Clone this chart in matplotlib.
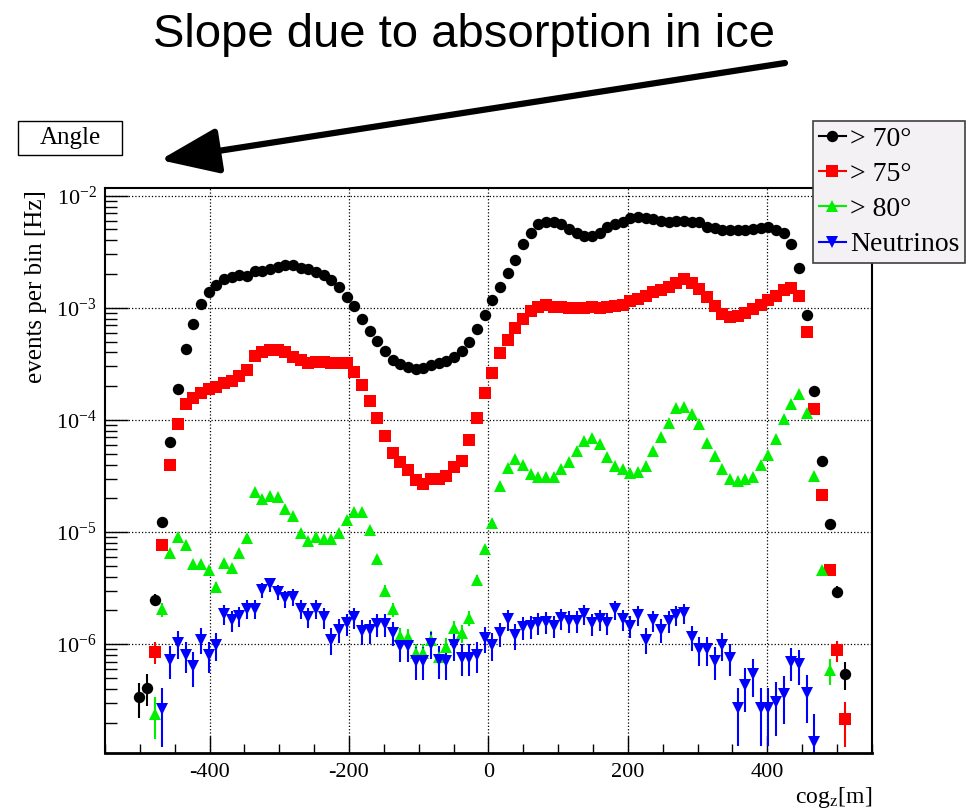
# plot.py - event rate per cog_z bin for several zenith cuts


import numpy as np
import matplotlib.pyplot as plt
from matplotlib.lines import Line2D
from matplotlib.patches import Rectangle
from matplotlib.ticker import MultipleLocator, LogLocator

# histogram binning: 100 bins of 11 m from -550 to 550
bin_edges = np.linspace(-550, 550, 101)
bin_centres = 0.5 * (bin_edges[:-1] + bin_edges[1:])

# > 70 deg, bins 4..96
gt70 = [3.35e-7, 4.1e-7, 2.5e-6, 1.24e-5, 6.35e-5, 1.89e-4, 4.3e-4, 7.1e-4,
        1.08e-3, 1.38e-3, 1.6e-3, 1.8e-3, 1.87e-3, 1.95e-3, 1.92e-3, 2.14e-3,
        2.13e-3, 2.2e-3, 2.33e-3, 2.39e-3, 2.39e-3, 2.28e-3, 2.23e-3, 2.10e-3,
        1.94e-3, 1.77e-3, 1.54e-3, 1.26e-3, 1.04e-3, 7.9e-4, 6.2e-4, 5.06e-4,
        4.09e-4, 3.42e-4, 3.15e-4, 2.94e-4, 2.86e-4, 2.9e-4, 3.07e-4, 3.2e-4,
        3.38e-4, 3.66e-4, 4.12e-4, 4.99e-4, 6.43e-4, 8.6e-4, 1.17e-3, 1.54e-3,
        2.03e-3, 2.67e-3, 3.68e-3, 4.62e-3, 5.56e-3, 5.87e-3, 5.87e-3, 5.56e-3,
        5.05e-3, 4.68e-3, 4.40e-3, 4.38e-3, 4.68e-3, 5.22e-3, 5.56e-3, 5.87e-3,
        6.29e-3, 6.42e-3, 6.29e-3, 6.16e-3, 5.99e-3, 5.87e-3, 5.99e-3, 5.99e-3,
        5.87e-3, 5.79e-3, 5.29e-3, 5.12e-3, 4.94e-3, 4.94e-3, 4.94e-3, 4.94e-3,
        4.99e-3, 5.12e-3, 5.22e-3, 4.94e-3, 4.68e-3, 3.71e-3, 2.28e-3, 8.57e-4,
        1.80e-4, 4.33e-5, 1.17e-5, 2.93e-6, 5.4e-7]
first70 = 4

# > 75 deg, bins 6..96
gt75 = [8.55e-7, 7.66e-6, 3.96e-5, 9.2e-5, 1.38e-4, 1.58e-4, 1.75e-4, 1.89e-4,
        1.98e-4, 2.15e-4, 2.22e-4, 2.48e-4, 2.77e-4, 3.74e-4, 4.0e-4, 4.2e-4,
        4.2e-4, 4.06e-4, 3.61e-4, 3.42e-4, 3.2e-4, 3.3e-4, 3.3e-4, 3.24e-4,
        3.24e-4, 3.24e-4, 2.66e-4, 2.05e-4, 1.48e-4, 1.03e-4, 7.2e-5, 5.1e-5,
        4.23e-5, 3.57e-5, 2.91e-5, 2.68e-5, 2.95e-5, 3.0e-5, 3.16e-5, 3.83e-5,
        4.33e-5, 6.6e-5, 1.03e-4, 1.75e-4, 2.6e-4, 3.93e-4, 5.16e-4, 6.56e-4,
        7.89e-4, 9.42e-4, 1.01e-3, 1.06e-3, 1.02e-3, 1.02e-3, 9.9e-4, 9.9e-4,
        9.9e-4, 1.02e-3, 9.9e-4, 1.02e-3, 1.04e-3, 1.06e-3, 1.16e-3, 1.19e-3,
        1.27e-3, 1.39e-3, 1.44e-3, 1.54e-3, 1.67e-3, 1.79e-3, 1.67e-3, 1.46e-3,
        1.24e-3, 1.04e-3, 8.8e-4, 8.3e-4, 8.4e-4, 8.9e-4, 9.7e-4, 1.06e-3,
        1.17e-3, 1.27e-3, 1.44e-3, 1.49e-3, 1.27e-3, 6.12e-4, 1.24e-4, 2.14e-5,
        4.58e-6, 8.86e-7, 2.13e-7]
first75 = 6

# > 80 deg, bins 6..94
gt80 = [2.4e-7, 2.04e-6, 6.45e-6, 9.08e-6, 7.66e-6, 5.19e-6, 5.19e-6, 4.58e-6,
        3.21e-6, 5.26e-6, 4.74e-6, 6.45e-6, 8.9e-6, 2.29e-5, 1.96e-5, 2.1e-5,
        2.04e-5, 1.59e-5, 1.39e-5, 9.87e-6, 8.38e-6, 9.08e-6, 8.6e-6, 8.6e-6,
        9.87e-6, 1.28e-5, 1.52e-5, 1.52e-5, 1.04e-5, 5.8e-6, 3.0e-6, 2.05e-6,
        1.18e-6, 1.15e-6, 8.3e-7, 8.3e-7, 1.09e-6, 7.7e-7, 9.5e-7, 1.38e-6,
        1.25e-6, 1.7e-6, 3.73e-6, 7.0e-6, 1.2e-5, 2.57e-5, 3.7e-5, 4.45e-5,
        3.96e-5, 3.27e-5, 3.08e-5, 3.08e-5, 3.08e-5, 3.62e-5, 4.24e-5, 5.28e-5,
        6.53e-5, 6.86e-5, 6.1e-5, 4.64e-5, 3.88e-5, 3.62e-5, 3.34e-5, 3.45e-5,
        3.88e-5, 5.28e-5, 7.08e-5, 9.44e-5, 1.29e-4, 1.31e-4, 1.12e-4, 9.14e-5,
        6.27e-5, 4.76e-5, 3.62e-5, 2.95e-5, 2.87e-5, 2.95e-5, 3.11e-5, 3.96e-5,
        4.86e-5, 6.71e-5, 1.01e-4, 1.38e-4, 1.70e-4, 1.16e-4, 3.16e-5, 4.58e-6,
        5.9e-7]
first80 = 6

# neutrinos, bins 7..92
nu = [2.62e-7, 7.3e-7, 1.02e-6, 8.0e-7, 6.38e-7, 1.1e-6, 8.0e-7, 9.8e-7,
      1.85e-6, 1.64e-6, 1.78e-6, 2.08e-6, 2.08e-6, 3.04e-6, 3.41e-6, 2.93e-6,
      2.56e-6, 2.65e-6, 2.08e-6, 1.75e-6, 2.06e-6, 1.73e-6, 1.09e-6, 1.34e-6,
      1.53e-6, 1.73e-6, 1.31e-6, 1.33e-6, 1.51e-6, 1.51e-6, 1.27e-6, 9.7e-7,
      9.7e-7, 7.1e-7, 7.1e-7, 1.01e-6, 7.3e-7, 7.1e-7, 9.8e-7, 7.6e-7,
      7.6e-7, 8.0e-7, 1.13e-6, 9.8e-7, 1.25e-6, 1.66e-6, 1.2e-6, 1.43e-6,
      1.44e-6, 1.55e-6, 1.58e-6, 1.46e-6, 1.7e-6, 1.62e-6, 1.62e-6, 1.85e-6,
      1.53e-6, 1.66e-6, 1.55e-6, 2.04e-6, 1.66e-6, 1.46e-6, 1.82e-6, 1.1e-6,
      1.64e-6, 1.34e-6, 1.62e-6, 1.82e-6, 1.9e-6, 1.16e-6, 9.0e-7, 9.0e-7,
      7.1e-7, 9.8e-7, 7.6e-7, 2.67e-7, 4.3e-7, 5.4e-7, 2.67e-7, 2.67e-7,
      3.06e-7, 3.59e-7, 6.97e-7, 6.6e-7, 3.64e-7, 1.35e-7]
first_nu = 7

# rate carried by one event (sets the Poisson error bars)
event_weight_data = 4e-8
event_weight_nu = 7.7e-8

labels = ["> 70°", "> 75°", "> 80°", "Neutrinos"]

GREEN = "#00f000"


def draw_series(ax, values, first, weight, color, marker, size):
    vals = np.array(values)
    z = bin_centres[first:first + len(vals)]
    err = np.sqrt(vals * weight)
    ax.errorbar(z, vals, yerr=err, fmt=marker, color=color, ms=size,
                mew=0, elinewidth=1.5, capsize=0, ls="none")


def main():
    plt.rcParams["font.family"] = ["Liberation Serif", "DejaVu Serif"]
    plt.rcParams["mathtext.fontset"] = "stix"
    plt.rcParams["axes.unicode_minus"] = False

    fig = plt.figure(figsize=(9.72, 8.11), dpi=100)
    ax = fig.add_axes([0.108, 0.0715, 0.789, 0.6967])
    ax.set_yscale("log")

    draw_series(ax, gt70, first70, event_weight_data, "black", "o", 8.2)
    draw_series(ax, gt75, first75, event_weight_data, "#ff0000", "s", 8.0)
    draw_series(ax, gt80, first80, event_weight_data, GREEN, "^", 8.0)
    draw_series(ax, nu, first_nu, event_weight_nu, "#0000ff", "v", 8.2)

    ax.set_xlim(-550, 550)
    ax.set_ylim(1.07e-7, 1.17e-2)
    ax.xaxis.set_major_locator(MultipleLocator(200))
    ax.xaxis.set_minor_locator(MultipleLocator(50))
    ax.yaxis.set_minor_locator(LogLocator(base=10, subs=np.arange(2, 10), numticks=20))
    ax.tick_params(which="both", direction="in", top=False, right=False,
                   labelsize=16, width=1.0)
    ax.tick_params(axis="y", which="major", length=16.5, pad=6)
    ax.tick_params(axis="y", which="minor", length=8.6)
    ax.tick_params(axis="x", which="major", length=12, pad=7)
    ax.tick_params(axis="x", which="minor", length=6.5)
    ax.grid(True, which="major", ls=":", color="black", lw=0.9)
    for side in ax.spines:
        ax.spines[side].set_linewidth(1.5)
    ax.spines["bottom"].set_linewidth(2.0)

    ax.set_ylabel("events per bin [Hz]", fontsize=18)
    ax.yaxis.set_label_coords(-0.076, 0.826)
    ax.set_xlabel(r"cog$_{\mathrm{z}}$[m]", fontsize=17, loc="right")
    ax.xaxis.set_label_coords(1.0, -0.057)

    handles = [
        Line2D([], [], color="black", marker="o", ms=8.2, mew=0, lw=1.5),
        Line2D([], [], color="#ff0000", marker="s", ms=8.0, mew=0, lw=1.5),
        Line2D([], [], color=GREEN, marker="^", ms=8.0, mew=0, lw=1.5),
        Line2D([], [], color="#0000ff", marker="v", ms=8.2, mew=0, lw=1.5),
    ]
    leg = ax.legend(handles, labels, loc="upper left",
                    bbox_to_anchor=(0.8364, 0.851), bbox_transform=fig.transFigure,
                    fontsize=20, handlelength=1.0, handletextpad=0.15,
                    borderpad=0.2, borderaxespad=0, labelspacing=0.35,
                    fancybox=False, framealpha=1, facecolor="#f4f1f4",
                    edgecolor="#404040")
    leg.get_frame().set_linewidth(1.2)

    # "Angle" title box of the ROOT canvas
    fig.patches.append(Rectangle((17.7 / 972, 1 - 155.3 / 811), 104.6 / 972, 34.6 / 811,
                                 transform=fig.transFigure, fill=False,
                                 edgecolor="black", lw=1.0))
    fig.text(70 / 972, 1 - 138 / 811, "Angle", fontsize=18, ha="center", va="center")

    fig.text(464 / 972, 1 - 47 / 811, "Slope due to absorption in ice",
             fontsize=34, family="Liberation Sans", ha="center", va="baseline")
    fig.add_artist(plt.Annotation(
        "", xy=(160 / 972, 1 - 160 / 811), xytext=(785 / 972, 1 - 63 / 811),
        xycoords="figure fraction", textcoords="figure fraction",
        arrowprops=dict(arrowstyle="-|>,head_length=1.8,head_width=0.7",
                        lw=4.5, color="black", mutation_scale=20,
                        shrinkA=0, shrinkB=0)))

    fig.savefig("out.png", dpi=100)


main()
